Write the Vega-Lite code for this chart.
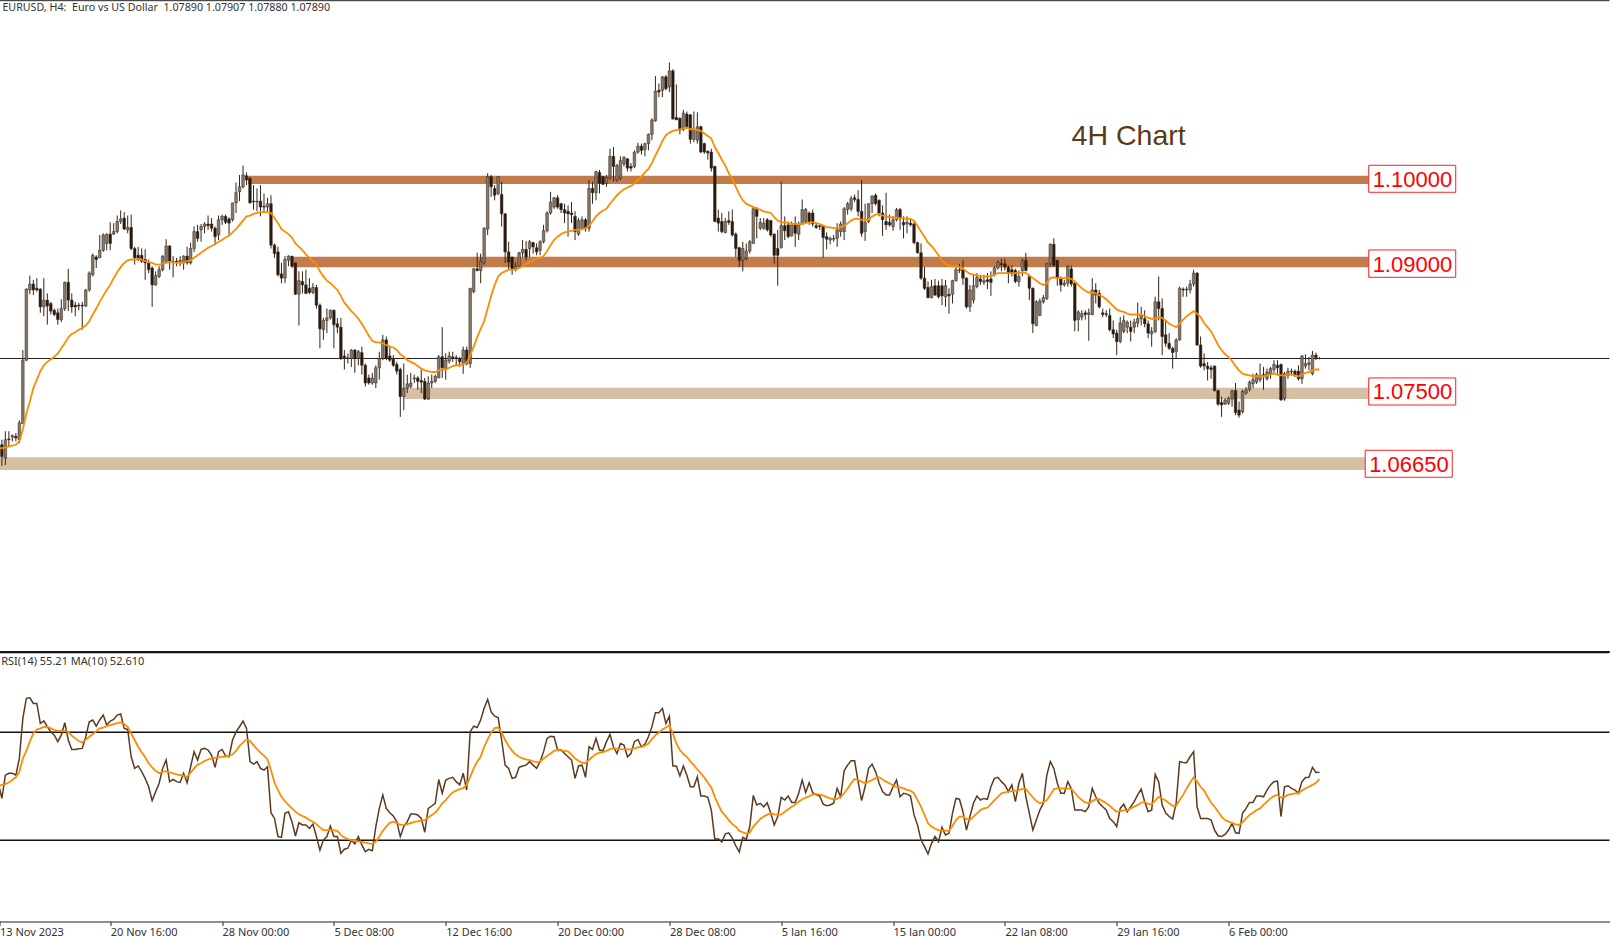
{
"$schema":"https://vega.github.io/schema/vega-lite/v6.json",
"padding":{"left":-1.5,"top":0,"right":0,"bottom":0},
"background":"white",
"spacing":0,
"config":{"view":{"stroke":null},"concat":{"spacing":0}},
"datasets":{
"bars":[
{"i":0,"o":1.0680,"h":1.0690,"l":1.0665,"c":1.0675,"ma":1.0683,"rsi":51.1,"rsima":50.1},
{"i":1,"o":1.0687,"h":1.0693,"l":1.0662,"c":1.0673,"ma":1.0683,"rsi":45.5,"rsima":50.5},
{"i":2,"o":1.0671,"h":1.0703,"l":1.0663,"c":1.0693,"ma":1.0684,"rsi":54.1,"rsima":50.8},
{"i":3,"o":1.0694,"h":1.0703,"l":1.0685,"c":1.0693,"ma":1.0685,"rsi":54.8,"rsima":51.4},
{"i":4,"o":1.0696,"h":1.0699,"l":1.0691,"c":1.0698,"ma":1.0686,"rsi":54.8,"rsima":52.3},
{"i":5,"o":1.0697,"h":1.0701,"l":1.0691,"c":1.0695,"ma":1.0687,"rsi":54.1,"rsima":53.3},
{"i":6,"o":1.0693,"h":1.0716,"l":1.0689,"c":1.0713,"ma":1.0691,"rsi":60.3,"rsima":55.4},
{"i":7,"o":1.0712,"h":1.0799,"l":1.0712,"c":1.0787,"ma":1.0705,"rsi":75.1,"rsima":60.3},
{"i":8,"o":1.0787,"h":1.0872,"l":1.0786,"c":1.0871,"ma":1.0724,"rsi":82.5,"rsima":63.1},
{"i":9,"o":1.0870,"h":1.0887,"l":1.0865,"c":1.0877,"ma":1.0738,"rsi":82.7,"rsima":66.5},
{"i":10,"o":1.0877,"h":1.0882,"l":1.0864,"c":1.0870,"ma":1.0754,"rsi":80.6,"rsima":69.5},
{"i":11,"o":1.0872,"h":1.0884,"l":1.0868,"c":1.0870,"ma":1.0764,"rsi":80.6,"rsima":71.0},
{"i":12,"o":1.0871,"h":1.0872,"l":1.0843,"c":1.0850,"ma":1.0774,"rsi":73.2,"rsima":71.4},
{"i":13,"o":1.0850,"h":1.0884,"l":1.0839,"c":1.0858,"ma":1.0781,"rsi":74.2,"rsima":71.9},
{"i":14,"o":1.0858,"h":1.0866,"l":1.0829,"c":1.0851,"ma":1.0785,"rsi":72.0,"rsima":72.0},
{"i":15,"o":1.0854,"h":1.0856,"l":1.0841,"c":1.0845,"ma":1.0788,"rsi":70.1,"rsima":71.4},
{"i":16,"o":1.0846,"h":1.0848,"l":1.0839,"c":1.0841,"ma":1.0791,"rsi":68.9,"rsima":70.8},
{"i":17,"o":1.0843,"h":1.0848,"l":1.0829,"c":1.0835,"ma":1.0795,"rsi":66.5,"rsima":70.5},
{"i":18,"o":1.0835,"h":1.0859,"l":1.0832,"c":1.0848,"ma":1.0801,"rsi":68.9,"rsima":70.5},
{"i":19,"o":1.0848,"h":1.0880,"l":1.0845,"c":1.0879,"ma":1.0807,"rsi":73.5,"rsima":70.5},
{"i":20,"o":1.0879,"h":1.0895,"l":1.0845,"c":1.0858,"ma":1.0814,"rsi":67.1,"rsima":70.1},
{"i":21,"o":1.0858,"h":1.0866,"l":1.0843,"c":1.0850,"ma":1.0818,"rsi":63.6,"rsima":68.7},
{"i":22,"o":1.0852,"h":1.0856,"l":1.0839,"c":1.0850,"ma":1.0820,"rsi":63.6,"rsima":67.7},
{"i":23,"o":1.0852,"h":1.0855,"l":1.0846,"c":1.0851,"ma":1.0823,"rsi":63.9,"rsima":66.7},
{"i":24,"o":1.0852,"h":1.0856,"l":1.0823,"c":1.0851,"ma":1.0825,"rsi":64.0,"rsima":66.2},
{"i":25,"o":1.0851,"h":1.0871,"l":1.0850,"c":1.0870,"ma":1.0828,"rsi":68.3,"rsima":67.3},
{"i":26,"o":1.0870,"h":1.0892,"l":1.0868,"c":1.0890,"ma":1.0833,"rsi":73.8,"rsima":68.3},
{"i":27,"o":1.0888,"h":1.0913,"l":1.0886,"c":1.0911,"ma":1.0841,"rsi":74.5,"rsima":69.2},
{"i":28,"o":1.0909,"h":1.0911,"l":1.0896,"c":1.0906,"ma":1.0848,"rsi":72.2,"rsima":70.4},
{"i":29,"o":1.0908,"h":1.0935,"l":1.0908,"c":1.0917,"ma":1.0856,"rsi":74.5,"rsima":71.4},
{"i":30,"o":1.0917,"h":1.0937,"l":1.0915,"c":1.0935,"ma":1.0863,"rsi":76.3,"rsima":71.7},
{"i":31,"o":1.0925,"h":1.0937,"l":1.0917,"c":1.0936,"ma":1.0870,"rsi":72.6,"rsima":72.2},
{"i":32,"o":1.0936,"h":1.0950,"l":1.0917,"c":1.0925,"ma":1.0876,"rsi":74.1,"rsima":72.6},
{"i":33,"o":1.0936,"h":1.0949,"l":1.0935,"c":1.0939,"ma":1.0884,"rsi":74.7,"rsima":73.0},
{"i":34,"o":1.0939,"h":1.0958,"l":1.0937,"c":1.0951,"ma":1.0891,"rsi":76.3,"rsima":73.3},
{"i":35,"o":1.0951,"h":1.0964,"l":1.0948,"c":1.0954,"ma":1.0897,"rsi":76.7,"rsima":73.6},
{"i":36,"o":1.0955,"h":1.0962,"l":1.0941,"c":1.0942,"ma":1.0902,"rsi":71.4,"rsima":73.0},
{"i":37,"o":1.0941,"h":1.0958,"l":1.0937,"c":1.0944,"ma":1.0905,"rsi":71.0,"rsima":72.0},
{"i":38,"o":1.0944,"h":1.0959,"l":1.0917,"c":1.0919,"ma":1.0906,"rsi":60.9,"rsima":69.5},
{"i":39,"o":1.0919,"h":1.0921,"l":1.0900,"c":1.0908,"ma":1.0906,"rsi":56.6,"rsima":67.1},
{"i":40,"o":1.0911,"h":1.0921,"l":1.0904,"c":1.0906,"ma":1.0907,"rsi":57.5,"rsima":64.6},
{"i":41,"o":1.0911,"h":1.0919,"l":1.0902,"c":1.0904,"ma":1.0906,"rsi":55.4,"rsima":62.6},
{"i":42,"o":1.0906,"h":1.0918,"l":1.0882,"c":1.0902,"ma":1.0904,"rsi":52.9,"rsima":60.7},
{"i":43,"o":1.0902,"h":1.0906,"l":1.0890,"c":1.0894,"ma":1.0903,"rsi":49.8,"rsima":58.5},
{"i":44,"o":1.0896,"h":1.0898,"l":1.0850,"c":1.0876,"ma":1.0902,"rsi":44.7,"rsima":57.0},
{"i":45,"o":1.0876,"h":1.0892,"l":1.0875,"c":1.0887,"ma":1.0900,"rsi":48.0,"rsima":55.7},
{"i":46,"o":1.0886,"h":1.0898,"l":1.0884,"c":1.0894,"ma":1.0900,"rsi":51.1,"rsima":54.8},
{"i":47,"o":1.0894,"h":1.0911,"l":1.0892,"c":1.0910,"ma":1.0901,"rsi":56.6,"rsima":55.3},
{"i":48,"o":1.0904,"h":1.0930,"l":1.0902,"c":1.0922,"ma":1.0902,"rsi":59.7,"rsima":55.6},
{"i":49,"o":1.0922,"h":1.0923,"l":1.0894,"c":1.0904,"ma":1.0903,"rsi":51.7,"rsima":55.1},
{"i":50,"o":1.0904,"h":1.0910,"l":1.0885,"c":1.0903,"ma":1.0903,"rsi":52.5,"rsima":54.8},
{"i":51,"o":1.0904,"h":1.0908,"l":1.0898,"c":1.0903,"ma":1.0902,"rsi":51.7,"rsima":54.4},
{"i":52,"o":1.0904,"h":1.0910,"l":1.0898,"c":1.0905,"ma":1.0902,"rsi":51.4,"rsima":54.1},
{"i":53,"o":1.0902,"h":1.0911,"l":1.0894,"c":1.0910,"ma":1.0902,"rsi":54.8,"rsima":53.8},
{"i":54,"o":1.0910,"h":1.0921,"l":1.0900,"c":1.0902,"ma":1.0904,"rsi":51.3,"rsima":53.5},
{"i":55,"o":1.0902,"h":1.0926,"l":1.0900,"c":1.0919,"ma":1.0905,"rsi":57.2,"rsima":55.0},
{"i":56,"o":1.0919,"h":1.0945,"l":1.0915,"c":1.0939,"ma":1.0908,"rsi":62.8,"rsima":56.6},
{"i":57,"o":1.0939,"h":1.0947,"l":1.0927,"c":1.0931,"ma":1.0911,"rsi":59.7,"rsima":58.0},
{"i":58,"o":1.0941,"h":1.0948,"l":1.0927,"c":1.0945,"ma":1.0914,"rsi":63.6,"rsima":58.5},
{"i":59,"o":1.0945,"h":1.0950,"l":1.0937,"c":1.0948,"ma":1.0917,"rsi":64.0,"rsima":59.3},
{"i":60,"o":1.0948,"h":1.0958,"l":1.0941,"c":1.0946,"ma":1.0920,"rsi":63.4,"rsima":59.9},
{"i":61,"o":1.0948,"h":1.0955,"l":1.0939,"c":1.0943,"ma":1.0922,"rsi":61.5,"rsima":60.3},
{"i":62,"o":1.0943,"h":1.0945,"l":1.0923,"c":1.0933,"ma":1.0924,"rsi":57.0,"rsima":60.5},
{"i":63,"o":1.0935,"h":1.0958,"l":1.0929,"c":1.0953,"ma":1.0927,"rsi":62.8,"rsima":60.7},
{"i":64,"o":1.0953,"h":1.0959,"l":1.0947,"c":1.0957,"ma":1.0929,"rsi":63.6,"rsima":60.9},
{"i":65,"o":1.0957,"h":1.0959,"l":1.0948,"c":1.0950,"ma":1.0932,"rsi":61.2,"rsima":61.0},
{"i":66,"o":1.0954,"h":1.0956,"l":1.0935,"c":1.0949,"ma":1.0934,"rsi":60.9,"rsima":61.2},
{"i":67,"o":1.0953,"h":1.0973,"l":1.0951,"c":1.0973,"ma":1.0938,"rsi":67.1,"rsima":61.8},
{"i":68,"o":1.0973,"h":1.0997,"l":1.0961,"c":1.0985,"ma":1.0942,"rsi":70.1,"rsima":63.1},
{"i":69,"o":1.0986,"h":1.1006,"l":1.0975,"c":1.0992,"ma":1.0947,"rsi":72.0,"rsima":64.9},
{"i":70,"o":1.0992,"h":1.1017,"l":1.0990,"c":1.1006,"ma":1.0952,"rsi":74.1,"rsima":66.1},
{"i":71,"o":1.1005,"h":1.1009,"l":1.0994,"c":1.1000,"ma":1.0957,"rsi":71.4,"rsima":67.3},
{"i":72,"o":1.1002,"h":1.1003,"l":1.0972,"c":1.0973,"ma":1.0958,"rsi":59.1,"rsima":66.7},
{"i":73,"o":1.0975,"h":1.0994,"l":1.0965,"c":1.0974,"ma":1.0960,"rsi":58.2,"rsima":65.2},
{"i":74,"o":1.0974,"h":1.0990,"l":1.0963,"c":1.0975,"ma":1.0961,"rsi":59.1,"rsima":63.7},
{"i":75,"o":1.0975,"h":1.0994,"l":1.0957,"c":1.0968,"ma":1.0962,"rsi":56.6,"rsima":62.4},
{"i":76,"o":1.0969,"h":1.0984,"l":1.0961,"c":1.0968,"ma":1.0962,"rsi":56.0,"rsima":61.3},
{"i":77,"o":1.0968,"h":1.0979,"l":1.0963,"c":1.0972,"ma":1.0962,"rsi":57.2,"rsima":59.9},
{"i":78,"o":1.0972,"h":1.0982,"l":1.0919,"c":1.0923,"ma":1.0961,"rsi":40.2,"rsima":56.0},
{"i":79,"o":1.0923,"h":1.0925,"l":1.0908,"c":1.0913,"ma":1.0955,"rsi":38.1,"rsima":51.3},
{"i":80,"o":1.0915,"h":1.0921,"l":1.0886,"c":1.0888,"ma":1.0949,"rsi":31.4,"rsima":48.6},
{"i":81,"o":1.0889,"h":1.0902,"l":1.0878,"c":1.0884,"ma":1.0942,"rsi":31.1,"rsima":46.1},
{"i":82,"o":1.0884,"h":1.0910,"l":1.0878,"c":1.0906,"ma":1.0939,"rsi":40.0,"rsima":44.5},
{"i":83,"o":1.0905,"h":1.0911,"l":1.0898,"c":1.0910,"ma":1.0936,"rsi":40.6,"rsima":43.1},
{"i":84,"o":1.0910,"h":1.0910,"l":1.0896,"c":1.0898,"ma":1.0932,"rsi":36.9,"rsima":41.8},
{"i":85,"o":1.0902,"h":1.0902,"l":1.0864,"c":1.0865,"ma":1.0925,"rsi":31.6,"rsima":40.6},
{"i":86,"o":1.0865,"h":1.0892,"l":1.0828,"c":1.0881,"ma":1.0921,"rsi":36.5,"rsima":39.6},
{"i":87,"o":1.0880,"h":1.0892,"l":1.0866,"c":1.0876,"ma":1.0917,"rsi":35.7,"rsima":39.0},
{"i":88,"o":1.0876,"h":1.0894,"l":1.0865,"c":1.0866,"ma":1.0912,"rsi":35.7,"rsima":38.4},
{"i":89,"o":1.0872,"h":1.0884,"l":1.0865,"c":1.0867,"ma":1.0908,"rsi":34.4,"rsima":37.5},
{"i":90,"o":1.0867,"h":1.0878,"l":1.0865,"c":1.0873,"ma":1.0904,"rsi":36.0,"rsima":36.9},
{"i":91,"o":1.0873,"h":1.0876,"l":1.0848,"c":1.0852,"ma":1.0900,"rsi":31.4,"rsima":36.0},
{"i":92,"o":1.0852,"h":1.0854,"l":1.0801,"c":1.0824,"ma":1.0892,"rsi":26.4,"rsima":34.8},
{"i":93,"o":1.0823,"h":1.0837,"l":1.0811,"c":1.0834,"ma":1.0886,"rsi":30.1,"rsima":33.8},
{"i":94,"o":1.0834,"h":1.0848,"l":1.0819,"c":1.0837,"ma":1.0881,"rsi":31.4,"rsima":33.8},
{"i":95,"o":1.0837,"h":1.0847,"l":1.0835,"c":1.0846,"ma":1.0878,"rsi":35.3,"rsima":33.8},
{"i":96,"o":1.0846,"h":1.0847,"l":1.0801,"c":1.0829,"ma":1.0874,"rsi":31.4,"rsima":33.8},
{"i":97,"o":1.0830,"h":1.0837,"l":1.0819,"c":1.0826,"ma":1.0870,"rsi":31.4,"rsima":33.5},
{"i":98,"o":1.0826,"h":1.0837,"l":1.0787,"c":1.0789,"ma":1.0863,"rsi":25.2,"rsima":32.0},
{"i":99,"o":1.0792,"h":1.0799,"l":1.0776,"c":1.0790,"ma":1.0855,"rsi":26.7,"rsima":31.1},
{"i":100,"o":1.0789,"h":1.0795,"l":1.0783,"c":1.0790,"ma":1.0850,"rsi":27.1,"rsima":30.5},
{"i":101,"o":1.0789,"h":1.0800,"l":1.0779,"c":1.0799,"ma":1.0845,"rsi":30.1,"rsima":30.1},
{"i":102,"o":1.0799,"h":1.0800,"l":1.0772,"c":1.0789,"ma":1.0841,"rsi":28.7,"rsima":29.9},
{"i":103,"o":1.0789,"h":1.0799,"l":1.0781,"c":1.0797,"ma":1.0836,"rsi":31.4,"rsima":29.6},
{"i":104,"o":1.0796,"h":1.0803,"l":1.0770,"c":1.0781,"ma":1.0830,"rsi":28.3,"rsima":29.4},
{"i":105,"o":1.0781,"h":1.0783,"l":1.0756,"c":1.0760,"ma":1.0823,"rsi":25.8,"rsima":29.2},
{"i":106,"o":1.0766,"h":1.0770,"l":1.0758,"c":1.0760,"ma":1.0816,"rsi":26.7,"rsima":28.9},
{"i":107,"o":1.0760,"h":1.0772,"l":1.0758,"c":1.0766,"ma":1.0810,"rsi":26.2,"rsima":28.7},
{"i":108,"o":1.0760,"h":1.0781,"l":1.0754,"c":1.0778,"ma":1.0808,"rsi":35.1,"rsima":29.5},
{"i":109,"o":1.0778,"h":1.0797,"l":1.0764,"c":1.0789,"ma":1.0808,"rsi":41.8,"rsima":31.4},
{"i":110,"o":1.0789,"h":1.0817,"l":1.0787,"c":1.0811,"ma":1.0807,"rsi":46.8,"rsima":33.5},
{"i":111,"o":1.0811,"h":1.0815,"l":1.0787,"c":1.0789,"ma":1.0805,"rsi":41.8,"rsima":35.1},
{"i":112,"o":1.0792,"h":1.0803,"l":1.0785,"c":1.0787,"ma":1.0803,"rsi":40.2,"rsima":36.5},
{"i":113,"o":1.0788,"h":1.0793,"l":1.0779,"c":1.0781,"ma":1.0802,"rsi":39.0,"rsima":36.9},
{"i":114,"o":1.0782,"h":1.0785,"l":1.0770,"c":1.0774,"ma":1.0799,"rsi":36.9,"rsima":36.5},
{"i":115,"o":1.0776,"h":1.0778,"l":1.0720,"c":1.0744,"ma":1.0794,"rsi":31.4,"rsima":35.7},
{"i":116,"o":1.0744,"h":1.0783,"l":1.0728,"c":1.0754,"ma":1.0791,"rsi":35.1,"rsima":35.7},
{"i":117,"o":1.0754,"h":1.0770,"l":1.0748,"c":1.0759,"ma":1.0787,"rsi":36.9,"rsima":36.0},
{"i":118,"o":1.0756,"h":1.0772,"l":1.0754,"c":1.0760,"ma":1.0785,"rsi":39.7,"rsima":36.4},
{"i":119,"o":1.0765,"h":1.0770,"l":1.0760,"c":1.0766,"ma":1.0783,"rsi":39.7,"rsima":36.8},
{"i":120,"o":1.0766,"h":1.0768,"l":1.0752,"c":1.0762,"ma":1.0780,"rsi":39.4,"rsima":37.0},
{"i":121,"o":1.0763,"h":1.0776,"l":1.0748,"c":1.0761,"ma":1.0777,"rsi":38.1,"rsima":37.3},
{"i":122,"o":1.0762,"h":1.0766,"l":1.0740,"c":1.0741,"ma":1.0775,"rsi":33.0,"rsima":37.5},
{"i":123,"o":1.0741,"h":1.0768,"l":1.0740,"c":1.0760,"ma":1.0774,"rsi":41.8,"rsima":38.4},
{"i":124,"o":1.0760,"h":1.0770,"l":1.0754,"c":1.0762,"ma":1.0773,"rsi":42.7,"rsima":39.4},
{"i":125,"o":1.0762,"h":1.0770,"l":1.0760,"c":1.0768,"ma":1.0773,"rsi":43.7,"rsima":40.2},
{"i":126,"o":1.0766,"h":1.0793,"l":1.0766,"c":1.0791,"ma":1.0775,"rsi":52.5,"rsima":41.8},
{"i":127,"o":1.0791,"h":1.0826,"l":1.0766,"c":1.0778,"ma":1.0776,"rsi":47.4,"rsima":43.7},
{"i":128,"o":1.0776,"h":1.0795,"l":1.0764,"c":1.0787,"ma":1.0776,"rsi":52.3,"rsima":44.9},
{"i":129,"o":1.0786,"h":1.0797,"l":1.0783,"c":1.0792,"ma":1.0778,"rsi":52.9,"rsima":46.4},
{"i":130,"o":1.0791,"h":1.0797,"l":1.0785,"c":1.0790,"ma":1.0780,"rsi":53.3,"rsima":47.7},
{"i":131,"o":1.0790,"h":1.0793,"l":1.0781,"c":1.0789,"ma":1.0781,"rsi":51.7,"rsima":48.4},
{"i":132,"o":1.0789,"h":1.0791,"l":1.0779,"c":1.0785,"ma":1.0781,"rsi":50.5,"rsima":48.9},
{"i":133,"o":1.0783,"h":1.0803,"l":1.0771,"c":1.0799,"ma":1.0782,"rsi":54.8,"rsima":49.3},
{"i":134,"o":1.0799,"h":1.0803,"l":1.0781,"c":1.0783,"ma":1.0784,"rsi":48.6,"rsima":50.5},
{"i":135,"o":1.0783,"h":1.0872,"l":1.0778,"c":1.0872,"ma":1.0793,"rsi":70.1,"rsima":53.5},
{"i":136,"o":1.0868,"h":1.0896,"l":1.0866,"c":1.0895,"ma":1.0803,"rsi":72.2,"rsima":56.6},
{"i":137,"o":1.0895,"h":1.0914,"l":1.0892,"c":1.0893,"ma":1.0814,"rsi":71.7,"rsima":59.1},
{"i":138,"o":1.0893,"h":1.0913,"l":1.0878,"c":1.0904,"ma":1.0824,"rsi":74.5,"rsima":60.9},
{"i":139,"o":1.0902,"h":1.0944,"l":1.0900,"c":1.0943,"ma":1.0833,"rsi":78.8,"rsima":64.6},
{"i":140,"o":1.0942,"h":1.1008,"l":1.0935,"c":1.1004,"ma":1.0848,"rsi":82.1,"rsima":67.3},
{"i":141,"o":1.1004,"h":1.1006,"l":1.0980,"c":1.0992,"ma":1.0863,"rsi":77.5,"rsima":69.8},
{"i":142,"o":1.0990,"h":1.0994,"l":1.0976,"c":1.0982,"ma":1.0876,"rsi":75.9,"rsima":71.5},
{"i":143,"o":1.0984,"h":1.1004,"l":1.0982,"c":1.1004,"ma":1.0886,"rsi":75.4,"rsima":71.7},
{"i":144,"o":1.0983,"h":1.0998,"l":1.0945,"c":1.0960,"ma":1.0890,"rsi":67.1,"rsima":69.8},
{"i":145,"o":1.0960,"h":1.0961,"l":1.0902,"c":1.0915,"ma":1.0892,"rsi":57.8,"rsima":67.1},
{"i":146,"o":1.0915,"h":1.0927,"l":1.0894,"c":1.0903,"ma":1.0894,"rsi":56.6,"rsima":64.9},
{"i":147,"o":1.0909,"h":1.0909,"l":1.0888,"c":1.0894,"ma":1.0894,"rsi":52.9,"rsima":63.1},
{"i":148,"o":1.0894,"h":1.0903,"l":1.0892,"c":1.0898,"ma":1.0894,"rsi":53.3,"rsima":61.7},
{"i":149,"o":1.0898,"h":1.0915,"l":1.0896,"c":1.0914,"ma":1.0896,"rsi":57.0,"rsima":60.9},
{"i":150,"o":1.0914,"h":1.0929,"l":1.0909,"c":1.0918,"ma":1.0898,"rsi":57.5,"rsima":60.3},
{"i":151,"o":1.0918,"h":1.0928,"l":1.0905,"c":1.0909,"ma":1.0901,"rsi":57.8,"rsima":59.9},
{"i":152,"o":1.0919,"h":1.0929,"l":1.0909,"c":1.0927,"ma":1.0903,"rsi":59.1,"rsima":59.7},
{"i":153,"o":1.0926,"h":1.0927,"l":1.0913,"c":1.0921,"ma":1.0905,"rsi":57.8,"rsima":59.2},
{"i":154,"o":1.0920,"h":1.0925,"l":1.0911,"c":1.0915,"ma":1.0907,"rsi":56.6,"rsima":58.9},
{"i":155,"o":1.0917,"h":1.0929,"l":1.0911,"c":1.0927,"ma":1.0908,"rsi":59.1,"rsima":59.1},
{"i":156,"o":1.0927,"h":1.0947,"l":1.0925,"c":1.0940,"ma":1.0910,"rsi":62.8,"rsima":60.3},
{"i":157,"o":1.0940,"h":1.0963,"l":1.0938,"c":1.0961,"ma":1.0916,"rsi":67.7,"rsima":61.2},
{"i":158,"o":1.0961,"h":1.0986,"l":1.0959,"c":1.0974,"ma":1.0923,"rsi":68.5,"rsima":62.1},
{"i":159,"o":1.0968,"h":1.0980,"l":1.0966,"c":1.0979,"ma":1.0929,"rsi":68.3,"rsima":63.1},
{"i":160,"o":1.0979,"h":1.0982,"l":1.0966,"c":1.0968,"ma":1.0933,"rsi":63.6,"rsima":63.4},
{"i":161,"o":1.0972,"h":1.0973,"l":1.0961,"c":1.0965,"ma":1.0936,"rsi":63.4,"rsima":63.3},
{"i":162,"o":1.0965,"h":1.0972,"l":1.0949,"c":1.0961,"ma":1.0938,"rsi":62.1,"rsima":63.1},
{"i":163,"o":1.0963,"h":1.0970,"l":1.0933,"c":1.0960,"ma":1.0939,"rsi":60.9,"rsima":62.9},
{"i":164,"o":1.0961,"h":1.0974,"l":1.0949,"c":1.0959,"ma":1.0940,"rsi":59.7,"rsima":61.7},
{"i":165,"o":1.0957,"h":1.0963,"l":1.0929,"c":1.0939,"ma":1.0941,"rsi":52.9,"rsima":60.3},
{"i":166,"o":1.0936,"h":1.0955,"l":1.0934,"c":1.0952,"ma":1.0941,"rsi":57.5,"rsima":59.4},
{"i":167,"o":1.0943,"h":1.0957,"l":1.0941,"c":1.0953,"ma":1.0942,"rsi":57.8,"rsima":58.7},
{"i":168,"o":1.0953,"h":1.0955,"l":1.0939,"c":1.0943,"ma":1.0943,"rsi":53.3,"rsima":58.5},
{"i":169,"o":1.0943,"h":1.1000,"l":1.0939,"c":1.0990,"ma":1.0946,"rsi":64.6,"rsima":59.7},
{"i":170,"o":1.0990,"h":1.0998,"l":1.0972,"c":1.0985,"ma":1.0951,"rsi":63.6,"rsima":60.9},
{"i":171,"o":1.0985,"h":1.1011,"l":1.0976,"c":1.1010,"ma":1.0957,"rsi":67.7,"rsima":61.9},
{"i":172,"o":1.1009,"h":1.1012,"l":1.0984,"c":1.0996,"ma":1.0961,"rsi":63.4,"rsima":62.4},
{"i":173,"o":1.1004,"h":1.1005,"l":1.0994,"c":1.0995,"ma":1.0964,"rsi":63.1,"rsima":62.6},
{"i":174,"o":1.0996,"h":1.1006,"l":1.0992,"c":1.1003,"ma":1.0966,"rsi":66.5,"rsima":63.1},
{"i":175,"o":1.1003,"h":1.1037,"l":1.1000,"c":1.1028,"ma":1.0972,"rsi":69.2,"rsima":63.7},
{"i":176,"o":1.1028,"h":1.1039,"l":1.0998,"c":1.1016,"ma":1.0977,"rsi":64.6,"rsima":64.0},
{"i":177,"o":1.1000,"h":1.1019,"l":1.0998,"c":1.1017,"ma":1.0982,"rsi":62.1,"rsima":63.9},
{"i":178,"o":1.1002,"h":1.1028,"l":1.1000,"c":1.1023,"ma":1.0986,"rsi":65.8,"rsima":63.7},
{"i":179,"o":1.1019,"h":1.1028,"l":1.1016,"c":1.1027,"ma":1.0989,"rsi":65.2,"rsima":63.6},
{"i":180,"o":1.1025,"h":1.1026,"l":1.1010,"c":1.1014,"ma":1.0991,"rsi":60.9,"rsima":63.6},
{"i":181,"o":1.1016,"h":1.1020,"l":1.1010,"c":1.1014,"ma":1.0993,"rsi":62.1,"rsima":63.6},
{"i":182,"o":1.1016,"h":1.1035,"l":1.1014,"c":1.1033,"ma":1.0996,"rsi":66.5,"rsima":64.0},
{"i":183,"o":1.1033,"h":1.1044,"l":1.1031,"c":1.1040,"ma":1.1000,"rsi":67.3,"rsima":64.4},
{"i":184,"o":1.1040,"h":1.1043,"l":1.1030,"c":1.1035,"ma":1.1004,"rsi":64.6,"rsima":64.6},
{"i":185,"o":1.1036,"h":1.1044,"l":1.1028,"c":1.1043,"ma":1.1009,"rsi":65.6,"rsima":65.0},
{"i":186,"o":1.1043,"h":1.1055,"l":1.1035,"c":1.1054,"ma":1.1013,"rsi":68.3,"rsima":65.8},
{"i":187,"o":1.1054,"h":1.1073,"l":1.1047,"c":1.1071,"ma":1.1020,"rsi":72.0,"rsima":67.4},
{"i":188,"o":1.1070,"h":1.1123,"l":1.1069,"c":1.1105,"ma":1.1029,"rsi":77.2,"rsima":68.9},
{"i":189,"o":1.1106,"h":1.1114,"l":1.1098,"c":1.1104,"ma":1.1037,"rsi":77.2,"rsima":69.8},
{"i":190,"o":1.1106,"h":1.1123,"l":1.1098,"c":1.1122,"ma":1.1046,"rsi":78.8,"rsima":71.0},
{"i":191,"o":1.1122,"h":1.1124,"l":1.1106,"c":1.1108,"ma":1.1053,"rsi":73.2,"rsima":71.7},
{"i":192,"o":1.1110,"h":1.1139,"l":1.1104,"c":1.1129,"ma":1.1056,"rsi":75.9,"rsima":72.6},
{"i":193,"o":1.1129,"h":1.1131,"l":1.1072,"c":1.1072,"ma":1.1058,"rsi":57.5,"rsima":69.5},
{"i":194,"o":1.1074,"h":1.1113,"l":1.1071,"c":1.1071,"ma":1.1059,"rsi":57.5,"rsima":65.8},
{"i":195,"o":1.1073,"h":1.1074,"l":1.1054,"c":1.1059,"ma":1.1060,"rsi":53.8,"rsima":63.4},
{"i":196,"o":1.1060,"h":1.1083,"l":1.1058,"c":1.1079,"ma":1.1061,"rsi":57.5,"rsima":61.9},
{"i":197,"o":1.1078,"h":1.1081,"l":1.1061,"c":1.1062,"ma":1.1062,"rsi":54.1,"rsima":60.9},
{"i":198,"o":1.1077,"h":1.1078,"l":1.1043,"c":1.1048,"ma":1.1060,"rsi":49.8,"rsima":59.2},
{"i":199,"o":1.1048,"h":1.1081,"l":1.1045,"c":1.1059,"ma":1.1060,"rsi":49.8,"rsima":57.8},
{"i":200,"o":1.1047,"h":1.1080,"l":1.1043,"c":1.1063,"ma":1.1059,"rsi":53.5,"rsima":56.2},
{"i":201,"o":1.1063,"h":1.1064,"l":1.1032,"c":1.1033,"ma":1.1058,"rsi":46.4,"rsima":54.8},
{"i":202,"o":1.1043,"h":1.1044,"l":1.1031,"c":1.1033,"ma":1.1055,"rsi":46.4,"rsima":53.2},
{"i":203,"o":1.1034,"h":1.1035,"l":1.1024,"c":1.1032,"ma":1.1052,"rsi":45.9,"rsima":51.3},
{"i":204,"o":1.1033,"h":1.1037,"l":1.1010,"c":1.1014,"ma":1.1049,"rsi":41.2,"rsima":49.6},
{"i":205,"o":1.1016,"h":1.1017,"l":1.0950,"c":1.0951,"ma":1.1039,"rsi":30.4,"rsima":46.1},
{"i":206,"o":1.0955,"h":1.0965,"l":1.0939,"c":1.0949,"ma":1.1032,"rsi":30.6,"rsima":43.1},
{"i":207,"o":1.0951,"h":1.0961,"l":1.0937,"c":1.0939,"ma":1.1024,"rsi":29.4,"rsima":40.6},
{"i":208,"o":1.0938,"h":1.0955,"l":1.0937,"c":1.0951,"ma":1.1017,"rsi":32.4,"rsima":39.1},
{"i":209,"o":1.0952,"h":1.0963,"l":1.0947,"c":1.0950,"ma":1.1008,"rsi":32.8,"rsima":37.5},
{"i":210,"o":1.0951,"h":1.0965,"l":1.0933,"c":1.0935,"ma":1.1001,"rsi":30.8,"rsima":36.0},
{"i":211,"o":1.0936,"h":1.0938,"l":1.0909,"c":1.0919,"ma":1.0992,"rsi":28.0,"rsima":35.1},
{"i":212,"o":1.0920,"h":1.0921,"l":1.0897,"c":1.0905,"ma":1.0983,"rsi":25.7,"rsima":33.5},
{"i":213,"o":1.0905,"h":1.0927,"l":1.0892,"c":1.0919,"ma":1.0976,"rsi":31.1,"rsima":33.0},
{"i":214,"o":1.0907,"h":1.0925,"l":1.0905,"c":1.0916,"ma":1.0972,"rsi":30.4,"rsima":32.5},
{"i":215,"o":1.0916,"h":1.0929,"l":1.0913,"c":1.0927,"ma":1.0970,"rsi":35.1,"rsima":32.8},
{"i":216,"o":1.0925,"h":1.0969,"l":1.0925,"c":1.0966,"ma":1.0968,"rsi":46.6,"rsima":35.1},
{"i":217,"o":1.0966,"h":1.0968,"l":1.0931,"c":1.0957,"ma":1.0966,"rsi":43.1,"rsima":36.5},
{"i":218,"o":1.0943,"h":1.0955,"l":1.0941,"c":1.0950,"ma":1.0965,"rsi":43.7,"rsima":37.9},
{"i":219,"o":1.0943,"h":1.0955,"l":1.0941,"c":1.0949,"ma":1.0963,"rsi":42.4,"rsima":38.8},
{"i":220,"o":1.0953,"h":1.0955,"l":1.0939,"c":1.0941,"ma":1.0962,"rsi":43.9,"rsima":39.5},
{"i":221,"o":1.0952,"h":1.0953,"l":1.0933,"c":1.0935,"ma":1.0961,"rsi":40.0,"rsima":40.0},
{"i":222,"o":1.0936,"h":1.0937,"l":1.0901,"c":1.0911,"ma":1.0956,"rsi":35.7,"rsima":39.6},
{"i":223,"o":1.0919,"h":1.0941,"l":1.0875,"c":1.0911,"ma":1.0952,"rsi":38.8,"rsima":39.4},
{"i":224,"o":1.0920,"h":1.0998,"l":1.0919,"c":1.0946,"ma":1.0950,"rsi":45.9,"rsima":39.6},
{"i":225,"o":1.0946,"h":1.0957,"l":1.0929,"c":1.0940,"ma":1.0950,"rsi":44.9,"rsima":40.6},
{"i":226,"o":1.0947,"h":1.0951,"l":1.0931,"c":1.0933,"ma":1.0949,"rsi":46.4,"rsima":41.5},
{"i":227,"o":1.0934,"h":1.0951,"l":1.0933,"c":1.0947,"ma":1.0948,"rsi":44.0,"rsima":42.4},
{"i":228,"o":1.0947,"h":1.0957,"l":1.0921,"c":1.0937,"ma":1.0948,"rsi":44.0,"rsima":43.2},
{"i":229,"o":1.0936,"h":1.0951,"l":1.0929,"c":1.0948,"ma":1.0948,"rsi":47.4,"rsima":44.3},
{"i":230,"o":1.0948,"h":1.0977,"l":1.0947,"c":1.0965,"ma":1.0948,"rsi":52.3,"rsima":45.2},
{"i":231,"o":1.0951,"h":1.0967,"l":1.0949,"c":1.0965,"ma":1.0949,"rsi":47.7,"rsima":45.8},
{"i":232,"o":1.0961,"h":1.0963,"l":1.0947,"c":1.0950,"ma":1.0950,"rsi":51.3,"rsima":46.3},
{"i":233,"o":1.0961,"h":1.0965,"l":1.0945,"c":1.0948,"ma":1.0950,"rsi":47.6,"rsima":47.0},
{"i":234,"o":1.0946,"h":1.0950,"l":1.0942,"c":1.0944,"ma":1.0949,"rsi":46.8,"rsima":47.1},
{"i":235,"o":1.0946,"h":1.0947,"l":1.0941,"c":1.0945,"ma":1.0948,"rsi":46.4,"rsima":46.9},
{"i":236,"o":1.0946,"h":1.0947,"l":1.0908,"c":1.0932,"ma":1.0946,"rsi":43.4,"rsima":46.6},
{"i":237,"o":1.0933,"h":1.0938,"l":1.0918,"c":1.0930,"ma":1.0944,"rsi":42.8,"rsima":46.0},
{"i":238,"o":1.0929,"h":1.0933,"l":1.0924,"c":1.0931,"ma":1.0944,"rsi":43.1,"rsima":45.5},
{"i":239,"o":1.0930,"h":1.0935,"l":1.0927,"c":1.0931,"ma":1.0943,"rsi":43.7,"rsima":45.2},
{"i":240,"o":1.0931,"h":1.0949,"l":1.0921,"c":1.0941,"ma":1.0943,"rsi":49.2,"rsima":45.3},
{"i":241,"o":1.0939,"h":1.0951,"l":1.0933,"c":1.0948,"ma":1.0944,"rsi":46.1,"rsima":46.1},
{"i":242,"o":1.0939,"h":1.0968,"l":1.0929,"c":1.0966,"ma":1.0946,"rsi":55.7,"rsima":47.4},
{"i":243,"o":1.0965,"h":1.0974,"l":1.0959,"c":1.0972,"ma":1.0949,"rsi":57.8,"rsima":49.2},
{"i":244,"o":1.0966,"h":1.0981,"l":1.0963,"c":1.0978,"ma":1.0952,"rsi":59.4,"rsima":51.1},
{"i":245,"o":1.0979,"h":1.0983,"l":1.0974,"c":1.0977,"ma":1.0954,"rsi":59.4,"rsima":52.7},
{"i":246,"o":1.0977,"h":1.0988,"l":1.0957,"c":1.0963,"ma":1.0954,"rsi":51.7,"rsima":52.3},
{"i":247,"o":1.0963,"h":1.1000,"l":1.0933,"c":1.0937,"ma":1.0953,"rsi":44.7,"rsima":51.7},
{"i":248,"o":1.0939,"h":1.0972,"l":1.0928,"c":1.0950,"ma":1.0953,"rsi":49.8,"rsima":51.1},
{"i":249,"o":1.0951,"h":1.0972,"l":1.0949,"c":1.0972,"ma":1.0953,"rsi":56.6,"rsima":51.7},
{"i":250,"o":1.0972,"h":1.0982,"l":1.0961,"c":1.0981,"ma":1.0957,"rsi":58.2,"rsima":52.3},
{"i":251,"o":1.0982,"h":1.0984,"l":1.0970,"c":1.0972,"ma":1.0959,"rsi":55.4,"rsima":53.0},
{"i":252,"o":1.0976,"h":1.0977,"l":1.0957,"c":1.0961,"ma":1.0960,"rsi":51.1,"rsima":53.3},
{"i":253,"o":1.0961,"h":1.0970,"l":1.0934,"c":1.0953,"ma":1.0958,"rsi":48.0,"rsima":52.5},
{"i":254,"o":1.0951,"h":1.0985,"l":1.0941,"c":1.0947,"ma":1.0957,"rsi":46.8,"rsima":51.7},
{"i":255,"o":1.0950,"h":1.0959,"l":1.0945,"c":1.0947,"ma":1.0956,"rsi":46.8,"rsima":51.1},
{"i":256,"o":1.0945,"h":1.0957,"l":1.0940,"c":1.0953,"ma":1.0956,"rsi":49.8,"rsima":50.3},
{"i":257,"o":1.0953,"h":1.0967,"l":1.0951,"c":1.0965,"ma":1.0955,"rsi":52.3,"rsima":49.8},
{"i":258,"o":1.0965,"h":1.0967,"l":1.0941,"c":1.0955,"ma":1.0955,"rsi":46.1,"rsima":49.6},
{"i":259,"o":1.0950,"h":1.0957,"l":1.0931,"c":1.0947,"ma":1.0955,"rsi":47.4,"rsima":49.2},
{"i":260,"o":1.0948,"h":1.0957,"l":1.0937,"c":1.0950,"ma":1.0954,"rsi":47.1,"rsima":48.7},
{"i":261,"o":1.0949,"h":1.0955,"l":1.0945,"c":1.0947,"ma":1.0954,"rsi":46.4,"rsima":48.4},
{"i":262,"o":1.0948,"h":1.0951,"l":1.0924,"c":1.0926,"ma":1.0952,"rsi":39.4,"rsima":47.4},
{"i":263,"o":1.0926,"h":1.0927,"l":1.0913,"c":1.0914,"ma":1.0946,"rsi":35.7,"rsima":44.9},
{"i":264,"o":1.0914,"h":1.0925,"l":1.0882,"c":1.0884,"ma":1.0939,"rsi":30.1,"rsima":42.4},
{"i":265,"o":1.0884,"h":1.0897,"l":1.0870,"c":1.0872,"ma":1.0933,"rsi":27.7,"rsima":39.4},
{"i":266,"o":1.0873,"h":1.0880,"l":1.0860,"c":1.0861,"ma":1.0926,"rsi":25.0,"rsima":36.3},
{"i":267,"o":1.0861,"h":1.0882,"l":1.0860,"c":1.0874,"ma":1.0922,"rsi":28.9,"rsima":35.1},
{"i":268,"o":1.0875,"h":1.0883,"l":1.0863,"c":1.0864,"ma":1.0917,"rsi":31.4,"rsima":34.3},
{"i":269,"o":1.0875,"h":1.0881,"l":1.0860,"c":1.0862,"ma":1.0911,"rsi":29.5,"rsima":33.8},
{"i":270,"o":1.0875,"h":1.0883,"l":1.0852,"c":1.0863,"ma":1.0905,"rsi":34.8,"rsima":33.7},
{"i":271,"o":1.0862,"h":1.0882,"l":1.0850,"c":1.0875,"ma":1.0901,"rsi":32.0,"rsima":33.6},
{"i":272,"o":1.0865,"h":1.0872,"l":1.0842,"c":1.0863,"ma":1.0899,"rsi":32.6,"rsima":33.5},
{"i":273,"o":1.0865,"h":1.0882,"l":1.0854,"c":1.0881,"ma":1.0898,"rsi":40.0,"rsima":35.3},
{"i":274,"o":1.0881,"h":1.0898,"l":1.0880,"c":1.0894,"ma":1.0898,"rsi":45.5,"rsima":37.5},
{"i":275,"o":1.0893,"h":1.0901,"l":1.0890,"c":1.0894,"ma":1.0897,"rsi":45.2,"rsima":38.8},
{"i":276,"o":1.0894,"h":1.0905,"l":1.0876,"c":1.0884,"ma":1.0895,"rsi":40.6,"rsima":38.8},
{"i":277,"o":1.0884,"h":1.0885,"l":1.0848,"c":1.0850,"ma":1.0892,"rsi":33.8,"rsima":37.9},
{"i":278,"o":1.0850,"h":1.0876,"l":1.0844,"c":1.0870,"ma":1.0889,"rsi":38.8,"rsima":37.5},
{"i":279,"o":1.0858,"h":1.0888,"l":1.0854,"c":1.0875,"ma":1.0888,"rsi":43.7,"rsima":38.8},
{"i":280,"o":1.0874,"h":1.0890,"l":1.0872,"c":1.0885,"ma":1.0887,"rsi":46.4,"rsima":40.0},
{"i":281,"o":1.0883,"h":1.0888,"l":1.0876,"c":1.0880,"ma":1.0886,"rsi":44.9,"rsima":41.2},
{"i":282,"o":1.0879,"h":1.0888,"l":1.0876,"c":1.0881,"ma":1.0886,"rsi":45.5,"rsima":41.8},
{"i":283,"o":1.0882,"h":1.0890,"l":1.0871,"c":1.0880,"ma":1.0886,"rsi":45.2,"rsima":42.1},
{"i":284,"o":1.0883,"h":1.0892,"l":1.0863,"c":1.0879,"ma":1.0886,"rsi":49.8,"rsima":43.4},
{"i":285,"o":1.0888,"h":1.0898,"l":1.0886,"c":1.0896,"ma":1.0888,"rsi":52.9,"rsima":44.9},
{"i":286,"o":1.0896,"h":1.0905,"l":1.0894,"c":1.0903,"ma":1.0890,"rsi":53.3,"rsima":46.1},
{"i":287,"o":1.0901,"h":1.0907,"l":1.0892,"c":1.0900,"ma":1.0890,"rsi":51.7,"rsima":47.4},
{"i":288,"o":1.0901,"h":1.0907,"l":1.0893,"c":1.0897,"ma":1.0890,"rsi":50.5,"rsima":47.7},
{"i":289,"o":1.0897,"h":1.0899,"l":1.0878,"c":1.0890,"ma":1.0890,"rsi":48.0,"rsima":48.0},
{"i":290,"o":1.0894,"h":1.0899,"l":1.0886,"c":1.0890,"ma":1.0890,"rsi":50.5,"rsima":48.2},
{"i":291,"o":1.0893,"h":1.0895,"l":1.0878,"c":1.0880,"ma":1.0890,"rsi":44.3,"rsima":48.4},
{"i":292,"o":1.0880,"h":1.0893,"l":1.0874,"c":1.0886,"ma":1.0890,"rsi":51.1,"rsima":48.6},
{"i":293,"o":1.0893,"h":1.0907,"l":1.0886,"c":1.0905,"ma":1.0891,"rsi":54.8,"rsima":49.0},
{"i":294,"o":1.0905,"h":1.0914,"l":1.0892,"c":1.0893,"ma":1.0890,"rsi":46.1,"rsima":49.0},
{"i":295,"o":1.0886,"h":1.0888,"l":1.0858,"c":1.0872,"ma":1.0887,"rsi":40.0,"rsima":47.4},
{"i":296,"o":1.0872,"h":1.0873,"l":1.0819,"c":1.0830,"ma":1.0884,"rsi":33.8,"rsima":45.9},
{"i":297,"o":1.0828,"h":1.0858,"l":1.0827,"c":1.0856,"ma":1.0881,"rsi":37.5,"rsima":44.5},
{"i":298,"o":1.0840,"h":1.0860,"l":1.0839,"c":1.0857,"ma":1.0878,"rsi":41.2,"rsima":43.7},
{"i":299,"o":1.0856,"h":1.0864,"l":1.0854,"c":1.0861,"ma":1.0876,"rsi":43.7,"rsima":44.1},
{"i":300,"o":1.0860,"h":1.0902,"l":1.0858,"c":1.0901,"ma":1.0878,"rsi":54.1,"rsima":44.9},
{"i":301,"o":1.0901,"h":1.0925,"l":1.0897,"c":1.0924,"ma":1.0884,"rsi":59.1,"rsima":46.8},
{"i":302,"o":1.0924,"h":1.0931,"l":1.0897,"c":1.0899,"ma":1.0885,"rsi":56.6,"rsima":48.9},
{"i":303,"o":1.0905,"h":1.0905,"l":1.0875,"c":1.0884,"ma":1.0884,"rsi":51.1,"rsima":49.2},
{"i":304,"o":1.0884,"h":1.0886,"l":1.0868,"c":1.0876,"ma":1.0884,"rsi":47.4,"rsima":49.2},
{"i":305,"o":1.0876,"h":1.0882,"l":1.0874,"c":1.0878,"ma":1.0884,"rsi":47.4,"rsima":49.2},
{"i":306,"o":1.0878,"h":1.0899,"l":1.0874,"c":1.0898,"ma":1.0884,"rsi":51.7,"rsima":49.2},
{"i":307,"o":1.0895,"h":1.0899,"l":1.0874,"c":1.0877,"ma":1.0883,"rsi":49.2,"rsima":49.0},
{"i":308,"o":1.0878,"h":1.0880,"l":1.0821,"c":1.0834,"ma":1.0880,"rsi":41.2,"rsima":47.6},
{"i":309,"o":1.0835,"h":1.0846,"l":1.0821,"c":1.0844,"ma":1.0876,"rsi":41.2,"rsima":46.1},
{"i":310,"o":1.0838,"h":1.0846,"l":1.0834,"c":1.0842,"ma":1.0872,"rsi":41.2,"rsima":44.9},
{"i":311,"o":1.0843,"h":1.0846,"l":1.0835,"c":1.0841,"ma":1.0869,"rsi":40.6,"rsima":44.0},
{"i":312,"o":1.0841,"h":1.0848,"l":1.0810,"c":1.0843,"ma":1.0867,"rsi":42.4,"rsima":43.7},
{"i":313,"o":1.0841,"h":1.0884,"l":1.0840,"c":1.0870,"ma":1.0867,"rsi":49.2,"rsima":44.5},
{"i":314,"o":1.0870,"h":1.0878,"l":1.0854,"c":1.0864,"ma":1.0866,"rsi":46.1,"rsima":45.2},
{"i":315,"o":1.0866,"h":1.0870,"l":1.0848,"c":1.0850,"ma":1.0864,"rsi":43.7,"rsima":45.2},
{"i":316,"o":1.0843,"h":1.0848,"l":1.0838,"c":1.0841,"ma":1.0862,"rsi":42.4,"rsima":44.5},
{"i":317,"o":1.0842,"h":1.0846,"l":1.0838,"c":1.0841,"ma":1.0859,"rsi":41.2,"rsima":43.7},
{"i":318,"o":1.0840,"h":1.0848,"l":1.0821,"c":1.0823,"ma":1.0855,"rsi":38.1,"rsima":42.8},
{"i":319,"o":1.0823,"h":1.0834,"l":1.0813,"c":1.0818,"ma":1.0851,"rsi":36.9,"rsima":41.6},
{"i":320,"o":1.0819,"h":1.0823,"l":1.0793,"c":1.0809,"ma":1.0847,"rsi":35.1,"rsima":40.6},
{"i":321,"o":1.0809,"h":1.0838,"l":1.0807,"c":1.0831,"ma":1.0845,"rsi":41.8,"rsima":40.8},
{"i":322,"o":1.0821,"h":1.0840,"l":1.0819,"c":1.0834,"ma":1.0844,"rsi":43.4,"rsima":41.1},
{"i":323,"o":1.0826,"h":1.0834,"l":1.0819,"c":1.0832,"ma":1.0842,"rsi":40.6,"rsima":41.2},
{"i":324,"o":1.0826,"h":1.0834,"l":1.0809,"c":1.0821,"ma":1.0841,"rsi":42.4,"rsima":41.8},
{"i":325,"o":1.0826,"h":1.0836,"l":1.0819,"c":1.0832,"ma":1.0841,"rsi":44.3,"rsima":42.4},
{"i":326,"o":1.0831,"h":1.0855,"l":1.0826,"c":1.0836,"ma":1.0841,"rsi":46.8,"rsima":43.1},
{"i":327,"o":1.0836,"h":1.0850,"l":1.0828,"c":1.0841,"ma":1.0841,"rsi":48.9,"rsima":43.9},
{"i":328,"o":1.0836,"h":1.0846,"l":1.0826,"c":1.0830,"ma":1.0839,"rsi":44.3,"rsima":44.3},
{"i":329,"o":1.0830,"h":1.0834,"l":1.0813,"c":1.0819,"ma":1.0837,"rsi":40.6,"rsima":43.4},
{"i":330,"o":1.0818,"h":1.0826,"l":1.0803,"c":1.0821,"ma":1.0836,"rsi":41.2,"rsima":43.4},
{"i":331,"o":1.0821,"h":1.0862,"l":1.0819,"c":1.0856,"ma":1.0836,"rsi":54.4,"rsima":44.7},
{"i":332,"o":1.0856,"h":1.0886,"l":1.0834,"c":1.0848,"ma":1.0838,"rsi":51.7,"rsima":46.1},
{"i":333,"o":1.0848,"h":1.0860,"l":1.0793,"c":1.0815,"ma":1.0837,"rsi":43.1,"rsima":45.5},
{"i":334,"o":1.0817,"h":1.0834,"l":1.0803,"c":1.0807,"ma":1.0834,"rsi":40.2,"rsima":44.7},
{"i":335,"o":1.0807,"h":1.0819,"l":1.0799,"c":1.0801,"ma":1.0830,"rsi":38.8,"rsima":43.7},
{"i":336,"o":1.0801,"h":1.0803,"l":1.0777,"c":1.0796,"ma":1.0828,"rsi":37.9,"rsima":42.8},
{"i":337,"o":1.0797,"h":1.0813,"l":1.0789,"c":1.0811,"ma":1.0826,"rsi":43.7,"rsima":42.8},
{"i":338,"o":1.0811,"h":1.0874,"l":1.0810,"c":1.0872,"ma":1.0830,"rsi":59.1,"rsima":44.9},
{"i":339,"o":1.0871,"h":1.0873,"l":1.0862,"c":1.0870,"ma":1.0835,"rsi":58.8,"rsima":46.8},
{"i":340,"o":1.0870,"h":1.0874,"l":1.0862,"c":1.0871,"ma":1.0839,"rsi":58.7,"rsima":49.2},
{"i":341,"o":1.0870,"h":1.0882,"l":1.0866,"c":1.0877,"ma":1.0842,"rsi":60.9,"rsima":51.3},
{"i":342,"o":1.0877,"h":1.0894,"l":1.0874,"c":1.0890,"ma":1.0845,"rsi":62.8,"rsima":53.3},
{"i":343,"o":1.0890,"h":1.0891,"l":1.0804,"c":1.0805,"ma":1.0842,"rsi":42.4,"rsima":51.7},
{"i":344,"o":1.0805,"h":1.0815,"l":1.0778,"c":1.0780,"ma":1.0838,"rsi":38.1,"rsima":49.8},
{"i":345,"o":1.0783,"h":1.0795,"l":1.0775,"c":1.0780,"ma":1.0831,"rsi":38.1,"rsima":48.4},
{"i":346,"o":1.0780,"h":1.0785,"l":1.0763,"c":1.0777,"ma":1.0826,"rsi":38.1,"rsima":46.1},
{"i":347,"o":1.0778,"h":1.0781,"l":1.0765,"c":1.0776,"ma":1.0821,"rsi":37.5,"rsima":43.9},
{"i":348,"o":1.0780,"h":1.0781,"l":1.0750,"c":1.0751,"ma":1.0813,"rsi":33.8,"rsima":42.4},
{"i":349,"o":1.0751,"h":1.0752,"l":1.0733,"c":1.0735,"ma":1.0805,"rsi":31.7,"rsima":40.6},
{"i":350,"o":1.0737,"h":1.0744,"l":1.0720,"c":1.0734,"ma":1.0799,"rsi":31.4,"rsima":38.8},
{"i":351,"o":1.0735,"h":1.0742,"l":1.0734,"c":1.0740,"ma":1.0794,"rsi":32.2,"rsima":37.5},
{"i":352,"o":1.0736,"h":1.0744,"l":1.0734,"c":1.0742,"ma":1.0791,"rsi":33.8,"rsima":36.9},
{"i":353,"o":1.0741,"h":1.0752,"l":1.0732,"c":1.0751,"ma":1.0786,"rsi":36.3,"rsima":36.5},
{"i":354,"o":1.0751,"h":1.0760,"l":1.0722,"c":1.0725,"ma":1.0780,"rsi":32.8,"rsima":35.9},
{"i":355,"o":1.0728,"h":1.0738,"l":1.0719,"c":1.0722,"ma":1.0775,"rsi":32.6,"rsima":35.7},
{"i":356,"o":1.0726,"h":1.0752,"l":1.0724,"c":1.0750,"ma":1.0771,"rsi":40.0,"rsima":36.7},
{"i":357,"o":1.0748,"h":1.0755,"l":1.0746,"c":1.0752,"ma":1.0770,"rsi":41.8,"rsima":38.1},
{"i":358,"o":1.0752,"h":1.0763,"l":1.0750,"c":1.0761,"ma":1.0769,"rsi":44.0,"rsima":39.4},
{"i":359,"o":1.0759,"h":1.0771,"l":1.0754,"c":1.0764,"ma":1.0768,"rsi":44.0,"rsima":40.2},
{"i":360,"o":1.0761,"h":1.0772,"l":1.0759,"c":1.0770,"ma":1.0768,"rsi":46.4,"rsima":41.2},
{"i":361,"o":1.0764,"h":1.0783,"l":1.0761,"c":1.0769,"ma":1.0768,"rsi":46.4,"rsima":41.8},
{"i":362,"o":1.0770,"h":1.0779,"l":1.0752,"c":1.0769,"ma":1.0768,"rsi":46.1,"rsima":43.1},
{"i":363,"o":1.0765,"h":1.0777,"l":1.0763,"c":1.0773,"ma":1.0769,"rsi":48.6,"rsima":44.3},
{"i":364,"o":1.0771,"h":1.0779,"l":1.0765,"c":1.0777,"ma":1.0770,"rsi":50.5,"rsima":45.5},
{"i":365,"o":1.0776,"h":1.0787,"l":1.0771,"c":1.0782,"ma":1.0771,"rsi":51.7,"rsima":46.4},
{"i":366,"o":1.0781,"h":1.0787,"l":1.0769,"c":1.0778,"ma":1.0770,"rsi":51.9,"rsima":46.8},
{"i":367,"o":1.0782,"h":1.0783,"l":1.0739,"c":1.0740,"ma":1.0769,"rsi":38.8,"rsima":45.8},
{"i":368,"o":1.0741,"h":1.0773,"l":1.0739,"c":1.0771,"ma":1.0769,"rsi":49.8,"rsima":46.1},
{"i":369,"o":1.0769,"h":1.0778,"l":1.0765,"c":1.0774,"ma":1.0770,"rsi":50.2,"rsima":46.8},
{"i":370,"o":1.0773,"h":1.0777,"l":1.0769,"c":1.0774,"ma":1.0770,"rsi":49.2,"rsima":47.1},
{"i":371,"o":1.0774,"h":1.0776,"l":1.0767,"c":1.0769,"ma":1.0769,"rsi":48.6,"rsima":47.4},
{"i":372,"o":1.0774,"h":1.0781,"l":1.0763,"c":1.0765,"ma":1.0768,"rsi":47.4,"rsima":47.4},
{"i":373,"o":1.0765,"h":1.0793,"l":1.0759,"c":1.0792,"ma":1.0770,"rsi":51.7,"rsima":48.4},
{"i":374,"o":1.0780,"h":1.0794,"l":1.0777,"c":1.0783,"ma":1.0772,"rsi":53.2,"rsima":49.2},
{"i":375,"o":1.0782,"h":1.0791,"l":1.0775,"c":1.0784,"ma":1.0773,"rsi":53.3,"rsima":49.8},
{"i":376,"o":1.0771,"h":1.0798,"l":1.0769,"c":1.0793,"ma":1.0775,"rsi":57.0,"rsima":50.5},
{"i":377,"o":1.0793,"h":1.0796,"l":1.0787,"c":1.0790,"ma":1.0776,"rsi":55.1,"rsima":51.3},
{"i":378,"o":1.0789,"h":1.07907,"l":1.0788,"c":1.0789,"ma":1.0776,"rsi":55.21,"rsima":52.61}
],
"zones":[
{"kind":"resistance","start":71.4,"end":392.1,"low":1.09953,"high":1.10051},
{"kind":"resistance","start":84.2,"end":392.1,"low":1.08968,"high":1.09093},
{"kind":"support","start":116.2,"end":392.1,"low":1.07411,"high":1.07545},
{"kind":"support","start":0.32,"end":391.1,"low":1.06572,"high":1.06722}
],
"levels":[
{"label":"1.10000","price":1.1,"textat":1.1,"from":385.2,"to":392.1,"right":417,"top":1.10174,"bottom":1.09855,"mid":404.6,"kind":"resistance"},
{"label":"1.09000","price":1.09,"textat":1.09,"from":385.2,"to":392.1,"right":417,"top":1.09173,"bottom":1.0885,"mid":404.6,"kind":"resistance"},
{"label":"1.07500","price":1.075,"textat":1.0749,"from":385.2,"to":392.1,"right":417,"top":1.0766,"bottom":1.0734,"mid":404.6,"kind":"support"},
{"label":"1.06650","price":1.0665,"textat":1.0663,"from":384.1,"to":391.1,"right":416,"top":1.06805,"bottom":1.06486,"mid":403.6,"kind":"support"}
]
},
"vconcat":[
{
"width":1610,
"height":651,
"encoding":{
"x":{"field":"i","type":"quantitative","scale":{"domain":[0.32,461],"nice":false,"zero":false,"padding":0},"axis":{"title":null,"labels":false,"ticks":false,"grid":false,"domain":true,"domainColor":"#222222","domainWidth":1}}
},
"layer":[
{"data":{"name":"zones"},"mark":{"type":"rect"},
"encoding":{
"x":{"field":"start","type":"quantitative"},
"x2":{"field":"end"},
"y":{"field":"low","type":"quantitative","scale":{"domain":[1.04432,1.12128],"nice":false,"zero":false},"axis":null},
"y2":{"field":"high"},
"color":{"field":"kind","type":"nominal","scale":{"domain":["resistance","support"],"range":["#c27c4b","#d6bfa3"]},"legend":null}}},
{"data":{"values":[{"price":1.0789},{"price":1.1212}]},"mark":{"type":"rule","color":"#222222","strokeWidth":1},
"encoding":{"x":null,"y":{"field":"price","type":"quantitative","scale":{"domain":[1.04432,1.12128],"nice":false,"zero":false},"axis":null}}},
{"data":{"name":"bars"},"mark":{"type":"rule","color":"#33251a","strokeWidth":1,"clip":true},
"encoding":{
"y":{"field":"l","type":"quantitative","scale":{"domain":[1.04432,1.12128],"nice":false,"zero":false},"axis":null},
"y2":{"field":"h"}}},
{"data":{"name":"bars"},"mark":{"type":"bar","size":2.6,"orient":"vertical","stroke":"#33251a","strokeWidth":0.5,"clip":true},
"encoding":{
"y":{"field":"o","type":"quantitative","scale":{"domain":[1.04432,1.12128],"nice":false,"zero":false},"axis":null},
"y2":{"field":"c"},
"color":{"condition":{"test":"datum.c>datum.o","value":"#85796c"},"value":"#2a1a0d"}}},
{"data":{"name":"bars"},"mark":{"type":"line","color":"#ff8c00","strokeWidth":1.8,"clip":true},
"encoding":{"y":{"field":"ma","type":"quantitative","scale":{"domain":[1.04432,1.12128],"nice":false,"zero":false},"axis":null}}},
{"data":{"name":"levels"},"mark":{"type":"rule","strokeWidth":1},
"encoding":{
"x":{"field":"from","type":"quantitative"},
"x2":{"field":"to"},
"y":{"field":"price","type":"quantitative","scale":{"domain":[1.04432,1.12128],"nice":false,"zero":false},"axis":null},
"color":{"field":"kind","type":"nominal","scale":{"domain":["resistance","support"],"range":["#b0708a","#ff2020"]},"legend":null}}},
{"data":{"name":"levels"},"mark":{"type":"rect","fill":"white","stroke":"#ff2020","strokeWidth":1},
"encoding":{
"x":{"field":"to","type":"quantitative"},
"x2":{"field":"right"},
"y":{"field":"bottom","type":"quantitative","scale":{"domain":[1.04432,1.12128],"nice":false,"zero":false},"axis":null},
"y2":{"field":"top"}}},
{"data":{"name":"levels"},"mark":{"type":"text","color":"#ff0000","font":"Liberation Sans","fontSize":22,"align":"center","baseline":"middle"},
"encoding":{
"x":{"field":"mid","type":"quantitative"},
"y":{"field":"textat","type":"quantitative","scale":{"domain":[1.04432,1.12128],"nice":false,"zero":false},"axis":null},
"text":{"field":"label"}}},
{"data":{"values":[{"note":"4H Chart","pos":323.4,"price":1.1052}]},"mark":{"type":"text","color":"#5a3a1a","font":"Liberation Sans","fontSize":28.5,"align":"center","baseline":"middle"},
"encoding":{
"x":{"field":"pos","type":"quantitative"},
"y":{"field":"price","type":"quantitative","scale":{"domain":[1.04432,1.12128],"nice":false,"zero":false},"axis":null},
"text":{"field":"note"}}},
{"data":{"values":[{"note":"EURUSD, H4:\u00a0\u00a0Euro vs US Dollar\u00a0\u00a01.07890 1.07907 1.07880 1.07890","pos":1.15,"price":1.12033}]},"mark":{"type":"text","color":"#333333","font":"Noto Sans","fontSize":10.7,"align":"left","baseline":"middle"},
"encoding":{
"x":{"field":"pos","type":"quantitative"},
"y":{"field":"price","type":"quantitative","scale":{"domain":[1.04432,1.12128],"nice":false,"zero":false},"axis":null},
"text":{"field":"note"}}}
]
},
{
"width":1610,
"height":270.5,
"encoding":{
"x":{"field":"i","type":"quantitative","scale":{"domain":[0.32,461],"nice":false,"zero":false,"padding":0},
"axis":{"title":null,"grid":false,"values":[0.32,32,64,96,128,160,192,224,256,288,320,352],
"labelExpr":"['13 Nov 2023','20 Nov 16:00','28 Nov 00:00','5 Dec 08:00','12 Dec 16:00','20 Dec 00:00','28 Dec 08:00','5 Jan 16:00','15 Jan 00:00','22 Jan 08:00','29 Jan 16:00','6 Feb 00:00'][round(datum.value/32)]",
"labelAlign":"left","labelFont":"Noto Sans","labelFontSize":11,"labelColor":"#333333","labelPadding":1,"labelOverlap":false,"labelBound":false,"labelFlush":false,"tickSize":4,"tickColor":"#222222","domainColor":"#222222"}}
},
"layer":[
{"data":{"values":[{"level":30},{"level":70},{"level":99.4}]},"mark":{"type":"rule","color":"#111111","strokeWidth":1.5},
"encoding":{"x":null,"y":{"field":"level","type":"quantitative","scale":{"domain":[0,100],"nice":false},"axis":null}}},
{"data":{"name":"bars"},"mark":{"type":"line","color":"#5c3a1e","strokeWidth":1.5,"clip":true},
"encoding":{"y":{"field":"rsi","type":"quantitative","scale":{"domain":[0,100],"nice":false},"axis":null}}},
{"data":{"name":"bars"},"mark":{"type":"line","color":"#ff8c00","strokeWidth":1.8,"clip":true},
"encoding":{"y":{"field":"rsima","type":"quantitative","scale":{"domain":[0,100],"nice":false},"axis":null}}},
{"data":{"values":[{"note":"RSI(14) 55.21 MA(10) 52.610","pos":0.8,"level":95.8}]},"mark":{"type":"text","color":"#333333","font":"Noto Sans","fontSize":11,"align":"left","baseline":"middle"},
"encoding":{
"x":{"field":"pos","type":"quantitative"},
"y":{"field":"level","type":"quantitative","scale":{"domain":[0,100],"nice":false},"axis":null},
"text":{"field":"note"}}}
]
}
]
}
